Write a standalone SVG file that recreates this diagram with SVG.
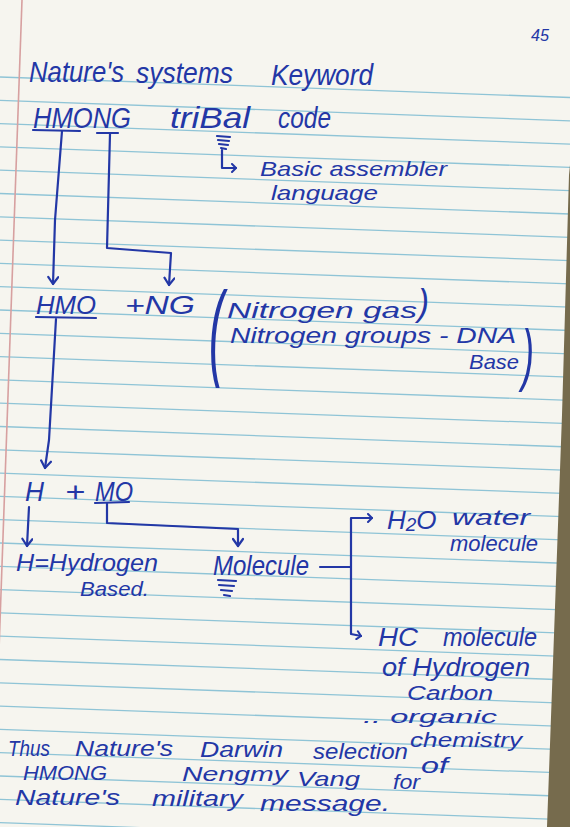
<svg xmlns="http://www.w3.org/2000/svg" width="570" height="827" viewBox="0 0 570 827">
<style>
.ink{fill:#2337a6;font-family:"Liberation Sans","DejaVu Sans",sans-serif;font-style:italic}
.ln{fill:none;stroke:#2337a6;stroke-width:2.2;stroke-linecap:round;stroke-linejoin:round}
.rule{fill:none;stroke:#8fc4d6;stroke-width:1.3}
</style>
<defs>
<marker id="ah" viewBox="-9 -6 11 12" markerWidth="11" markerHeight="12" refX="0" refY="0" orient="auto" markerUnits="userSpaceOnUse">
<path d="M-7,-5 L0,0 L-7,5" fill="none" stroke="#2337a6" stroke-width="2.2" stroke-linecap="round" stroke-linejoin="round"/>
</marker>
<marker id="ahs" viewBox="-7 -5 9 10" markerWidth="9" markerHeight="10" refX="0" refY="0" orient="auto" markerUnits="userSpaceOnUse">
<path d="M-4,-4 L0,0 L-4,4" fill="none" stroke="#2337a6" stroke-width="2" stroke-linecap="round" stroke-linejoin="round"/>
</marker>
</defs>
<g id="paper">
<rect x="0" y="0" width="570" height="827" fill="#f6f5ef"/>
<path class="rule" d="M0,77 L570,97.5 M0,100.3 L570,120.8 M0,123.6 L570,144.1 M0,146.9 L570,167.4 M0,170.2 L570,190.7 M0,193.5 L570,214 M0,216.8 L570,237.3 M0,240.1 L570,260.6 M0,263.4 L570,283.9 M0,286.7 L570,307.2 M0,310 L570,330.5 M0,333.3 L570,353.8 M0,356.6 L570,377.1 M0,379.9 L570,400.4 M0,403.2 L570,423.7 M0,426.5 L570,447 M0,449.8 L570,470.3 M0,473.1 L570,493.6 M0,496.4 L570,516.9 M0,519.7 L570,540.2 M0,543 L570,563.5 M0,566.3 L570,586.8 M0,589.6 L570,610.1 M0,612.9 L570,633.4 M0,636.2 L570,656.7 M0,659.5 L570,680 M0,682.8 L570,703.3 M0,706.1 L570,726.6 M0,729.4 L570,749.9 M0,752.7 L570,773.2 M0,776 L570,796.5 M0,799.3 L570,819.8 M0,822.6 L570,843.1"/>
<path d="M22,0 L-1,650" fill="none" stroke="#d7a0a0" stroke-width="1.6"/>
<polygon points="570,165 569,175 562,415 547,827 570,827" fill="#766b4d"/>
</g>

<g id="page-number"><text class="ink" x="531" y="41" font-size="17" textLength="18" lengthAdjust="spacingAndGlyphs">45</text></g>

<g id="title"><text class="ink" font-size="30"><tspan x="29" y="82" textLength="95" lengthAdjust="spacingAndGlyphs">Nature's</tspan> <tspan x="136" y="83" textLength="97" lengthAdjust="spacingAndGlyphs">systems</tspan> <tspan x="271" y="85" textLength="102" lengthAdjust="spacingAndGlyphs">Keyword</tspan></text></g>

<g id="hmong">
<text class="ink" y="128" font-size="30"><tspan x="33" textLength="98" lengthAdjust="spacingAndGlyphs">HMONG</tspan> <tspan x="170" textLength="80" lengthAdjust="spacingAndGlyphs">triBal</tspan> <tspan x="278" textLength="53" lengthAdjust="spacingAndGlyphs">code</tspan></text>
<path class="ln" d="M33,130 L80,131 M97,133 L118,133"/>
<path class="ln" d="M217,136 L230,137 M218,140 L229,141 M219,144 L228,145 M221,148 L226,149"/>
</g>

<g id="basic">
<text class="ink" x="260" y="176" font-size="21" textLength="187" lengthAdjust="spacingAndGlyphs">Basic assembler</text>
<text class="ink" x="271" y="200" font-size="21" textLength="107" lengthAdjust="spacingAndGlyphs">language</text>
</g>

<g id="hmo-ng">
<text class="ink" y="314" font-size="26"><tspan x="36" textLength="60" lengthAdjust="spacingAndGlyphs">HMO</tspan> <tspan x="125" textLength="70" lengthAdjust="spacingAndGlyphs">+NG</tspan></text>
<path class="ln" d="M36,317 L96,318"/>
</g>

<g id="nitrogen">
<text class="ink" transform="translate(209,366) scale(1.5,3.5)" font-size="30">(</text>
<text class="ink" x="227" y="318" font-size="22" textLength="190" lengthAdjust="spacingAndGlyphs">Nitrogen gas</text>
<text class="ink" transform="translate(418,315) scale(1.1,1.2)" font-size="30">)</text>
<text class="ink" x="230" y="343" font-size="22" textLength="286" lengthAdjust="spacingAndGlyphs">Nitrogen groups - DNA</text>
<text class="ink" x="469" y="369" font-size="21" textLength="50" lengthAdjust="spacingAndGlyphs">Base</text>
<text class="ink" transform="translate(522,378) scale(1.2,2.3)" font-size="30">)</text>
</g>

<g id="h-mo">
<text class="ink" y="501" font-size="27"><tspan x="25" textLength="19" lengthAdjust="spacingAndGlyphs">H</tspan> <tspan x="65" textLength="20" lengthAdjust="spacingAndGlyphs">+</tspan> <tspan x="95" textLength="38" lengthAdjust="spacingAndGlyphs">MO</tspan></text>
<path class="ln" d="M95,503 L129,502"/>
</g>

<g id="hydrogen">
<text class="ink" x="16" y="571" font-size="24" textLength="142" lengthAdjust="spacingAndGlyphs">H=Hydrogen</text>
<text class="ink" x="80" y="596" font-size="21" textLength="69" lengthAdjust="spacingAndGlyphs">Based.</text>
</g>

<g id="molecule">
<text class="ink" x="213" y="575" font-size="27" textLength="96" lengthAdjust="spacingAndGlyphs">Molecule</text>
<path class="ln" d="M218,580 L236,581 M219,585 L234,586 M221,590 L232,591 M224,595 L230,596"/>
</g>

<g id="h2o">
<text class="ink" x="387" y="529" font-size="26">H<tspan font-size="19" dy="2">2</tspan><tspan dy="-2">O</tspan></text>
<text class="ink" x="452" y="525" font-size="22" textLength="78" lengthAdjust="spacingAndGlyphs">water</text>
<text class="ink" x="450" y="551" font-size="22" textLength="88" lengthAdjust="spacingAndGlyphs">molecule</text>
</g>

<g id="hc">
<text class="ink" y="646" font-size="26"><tspan x="378" textLength="40" lengthAdjust="spacingAndGlyphs">HC</tspan> <tspan x="443" textLength="94" lengthAdjust="spacingAndGlyphs">molecule</tspan></text>
<text class="ink" x="382" y="676" font-size="25" textLength="148" lengthAdjust="spacingAndGlyphs">of Hydrogen</text>
<text class="ink" x="407" y="700" font-size="20" textLength="86" lengthAdjust="spacingAndGlyphs">Carbon</text>
<text class="ink" x="363" y="723" font-size="19" textLength="134" lengthAdjust="spacingAndGlyphs">.. organic</text>
<text class="ink" x="410" y="747" font-size="21" textLength="112" lengthAdjust="spacingAndGlyphs">chemistry</text>
</g>

<g id="conclusion">
<text class="ink" font-size="22"><tspan x="8" y="756" textLength="42" lengthAdjust="spacingAndGlyphs">Thus</tspan> <tspan x="75" y="756" textLength="98" lengthAdjust="spacingAndGlyphs">Nature's</tspan> <tspan x="200" y="757" textLength="83" lengthAdjust="spacingAndGlyphs">Darwin</tspan> <tspan x="313" y="759" textLength="95" lengthAdjust="spacingAndGlyphs">selection</tspan> <tspan x="421" y="773" textLength="27" lengthAdjust="spacingAndGlyphs">of</tspan></text>
<text class="ink" font-size="21"><tspan x="23" y="780" textLength="84" lengthAdjust="spacingAndGlyphs">HMONG</tspan> <tspan x="182" y="781" textLength="106" lengthAdjust="spacingAndGlyphs">Nengmy</tspan> <tspan x="297" y="786" textLength="63" lengthAdjust="spacingAndGlyphs">Vang</tspan> <tspan x="393" y="789" textLength="27" lengthAdjust="spacingAndGlyphs">for</tspan></text>
<text class="ink" font-size="22"><tspan x="15" y="805" textLength="105" lengthAdjust="spacingAndGlyphs">Nature's</tspan> <tspan x="152" y="806" textLength="91" lengthAdjust="spacingAndGlyphs">military</tspan> <tspan x="260" y="811" textLength="130" lengthAdjust="spacingAndGlyphs">message.</tspan></text>
</g>

<g id="connectors">
<path class="ln" d="M62,131 L55,220 L53,284" marker-end="url(#ah)"/>
<path class="ln" d="M110,134 L107,248 L171,253 L169,285" marker-end="url(#ah)"/>
<path class="ln" d="M222,150 L222,168 L236,168" marker-end="url(#ahs)"/>
<path class="ln" d="M56,319 L49,440 L45,468" marker-end="url(#ah)"/>
<path class="ln" d="M29,507 L27,546" marker-end="url(#ah)"/>
<path class="ln" d="M107,503 L107,523 L238,529 L238,546" marker-end="url(#ah)"/>
<path class="ln" d="M320,567 L351,567"/>
<path class="ln" d="M351,567 L351,518 L372,518" marker-end="url(#ahs)"/>
<path class="ln" d="M351,567 L351,634 L361,636" marker-end="url(#ahs)"/>
</g>
</svg>
